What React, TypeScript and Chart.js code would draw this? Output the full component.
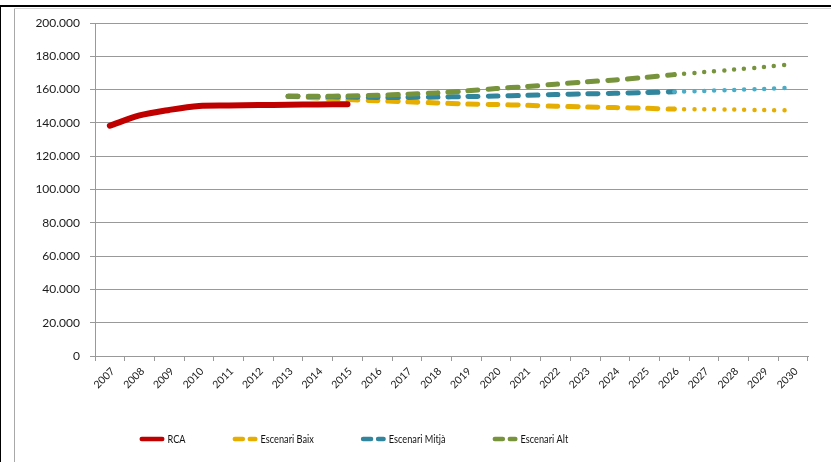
import React, { useEffect, useRef } from 'react';
import { Chart, registerables } from 'chart.js';

Chart.register(...registerables);

const years = ['2007', '2008', '2009', '2010', '2011', '2012', '2013', '2014', '2015', '2016', '2017', '2018', '2019', '2020', '2021', '2022', '2023', '2024', '2025', '2026', '2027', '2028', '2029', '2030'];

const rca = [138300, 144500, 147800, 150200, 150500, 150700, 150900, 151100, 151200, null, null, null, null, null, null, null, null, null, null, null, null, null, null, null];
const baix = [null, null, null, null, null, null, 156000, 155000, 154000, 153300, 152700, 152000, 151400, 151000, 150600, 150000, 149600, 149200, 148800, 148300, 148200, 148000, 147700, 147500];
const mitja = [null, null, null, null, null, null, 156000, 155800, 155500, 155300, 155300, 155500, 155800, 156100, 156500, 157000, 157400, 157800, 158200, 158700, 159200, 159800, 160400, 161100];
const alt = [null, null, null, null, null, null, 156000, 156000, 156200, 156600, 157200, 158000, 159200, 160600, 161800, 163200, 164600, 165800, 167300, 169000, 170500, 172000, 173500, 175300];

const seriesLabels = ['RCA', 'Escenari Baix', 'Escenari Mitjà', 'Escenari Alt'];
const yMin = 0;
const yMax = 200000;
const yStep = 20000;
const dottedFromIndex = 19; // 2026 onwards is dotted

const RED = '#C00000';
const YELLOW = '#E5AE00';
const BLUE = '#31859C';
const BLUE_LIGHT = '#4BACC6';
const GREEN = '#77933C';

const fmt = (v: number) => String(Math.round(v)).replace(/\B(?=(\d{3})+(?!\d))/g, '.');

const framePlugin = {
  id: 'frame',
  beforeDraw(chart: any) {
    const ctx = chart.ctx;
    ctx.save();
    ctx.fillStyle = '#ffffff';
    ctx.fillRect(0, 0, chart.width, chart.height);
    ctx.fillStyle = '#000000';
    ctx.fillRect(0, 5, chart.width, 2);
    ctx.fillRect(0, 5, 1, chart.height - 5);
    ctx.fillStyle = '#a8a8a8';
    ctx.fillRect(14, 8, 1, chart.height - 8);
    ctx.fillStyle = '#d4d4d4';
    ctx.fillRect(14, 8, chart.width - 14, 1);
    ctx.restore();
  },
};

const legendPlugin = {
  id: 'customLegend',
  afterDraw(chart: any) {
    const ctx = chart.ctx;
    ctx.save();
    const y = 439;
    let x = 139.5;
    const markerW = 25;
    const textGap = 3;
    const itemGap = 47;
    const squeeze = 0.8;
    ctx.font = '11.5px Lato, sans-serif';
    ctx.textBaseline = 'middle';
    ctx.textAlign = 'left';
    chart.data.datasets.forEach((ds: any, i: number) => {
      const lw = 4.5;
      ctx.strokeStyle = ds.borderColor;
      ctx.lineWidth = lw;
      ctx.lineCap = 'round';
      ctx.setLineDash(i === 0 ? [] : [8, 7]);
      ctx.beginPath();
      ctx.moveTo(x + lw / 2, y);
      ctx.lineTo(x + markerW - lw / 2, y);
      ctx.stroke();
      ctx.setLineDash([]);
      ctx.fillStyle = '#111111';
      const tx = x + markerW + textGap;
      ctx.save();
      ctx.translate(tx, y + 0.5);
      ctx.scale(squeeze, 1);
      ctx.fillText(ds.label, 0, 0);
      ctx.restore();
      x = tx + ctx.measureText(ds.label).width * squeeze + itemGap;
    });
    ctx.restore();
  },
};

const scenarioSegment = (dashColor: string, dotColor: string) => ({
  borderDash: (c: any) => (c.p0DataIndex >= dottedFromIndex ? [0, 10] : [10, 10]),
  borderWidth: (c: any) => (c.p0DataIndex >= dottedFromIndex ? 4.5 : 5),
  borderColor: (c: any) => (c.p0DataIndex >= dottedFromIndex ? dotColor : dashColor),
});

export default function App() {
  const ref = useRef<HTMLCanvasElement | null>(null);

  useEffect(() => {
    if (!ref.current) return;
    const chart = new Chart(ref.current, {
      type: 'line',
      data: {
        labels: years,
        datasets: [
          {
            label: seriesLabels[0],
            data: rca,
            order: 0,
            borderColor: RED,
            backgroundColor: RED,
            borderWidth: 6,
            borderCapStyle: 'round',
            tension: 0.3,
            pointRadius: 0,
          },
          {
            label: seriesLabels[1],
            data: baix,
            order: 3,
            borderColor: YELLOW,
            backgroundColor: YELLOW,
            borderWidth: 5,
            borderCapStyle: 'round',
            tension: 0.3,
            pointRadius: 0,
            segment: scenarioSegment(YELLOW, YELLOW),
          },
          {
            label: seriesLabels[2],
            data: mitja,
            order: 2,
            borderColor: BLUE,
            backgroundColor: BLUE,
            borderWidth: 5,
            borderCapStyle: 'round',
            tension: 0.3,
            pointRadius: 0,
            segment: scenarioSegment(BLUE, BLUE_LIGHT),
          },
          {
            label: seriesLabels[3],
            data: alt,
            order: 1,
            borderColor: GREEN,
            backgroundColor: GREEN,
            borderWidth: 5,
            borderCapStyle: 'round',
            tension: 0.3,
            pointRadius: 0,
            segment: scenarioSegment(GREEN, GREEN),
          },
        ] as any,
      },
      options: {
        responsive: false,
        animation: false,
        layout: { padding: { top: 23, right: 23, bottom: 60, left: 0 } },
        plugins: {
          legend: { display: false },
          tooltip: { enabled: false },
        },
        scales: {
          x: {
            offset: true,
            afterFit: (s: any) => {
              s.height = 46;
            },
            grid: {
              offset: true,
              drawOnChartArea: false,
              drawTicks: true,
              tickLength: 5,
              color: '#999999',
            },
            border: { display: true, color: '#999999' },
            ticks: {
              autoSkip: false,
              minRotation: 45,
              maxRotation: 45,
              padding: 4,
              labelOffset: 3,
              color: '#1a1a1a',
              font: { family: 'Lato', size: 10.5 },
            },
          },
          y: {
            min: yMin,
            max: yMax,
            afterFit: (s: any) => {
              s.width = 95;
            },
            grid: {
              color: '#999999',
              tickLength: 5,
            },
            border: { display: true, color: '#999999' },
            ticks: {
              stepSize: yStep,
              padding: 10,
              color: '#1a1a1a',
              font: { family: 'Lato', size: 12 },
              callback: (v: any) => fmt(Number(v)),
            },
          },
        },
      } as any,
      plugins: [framePlugin, legendPlugin],
    });
    return () => chart.destroy();
  }, []);

  return (
    <div style={{ position: 'absolute', left: 0, top: 0, width: 831, height: 462 }}>
      <canvas ref={ref} width={831} height={462} />
    </div>
  );
}
